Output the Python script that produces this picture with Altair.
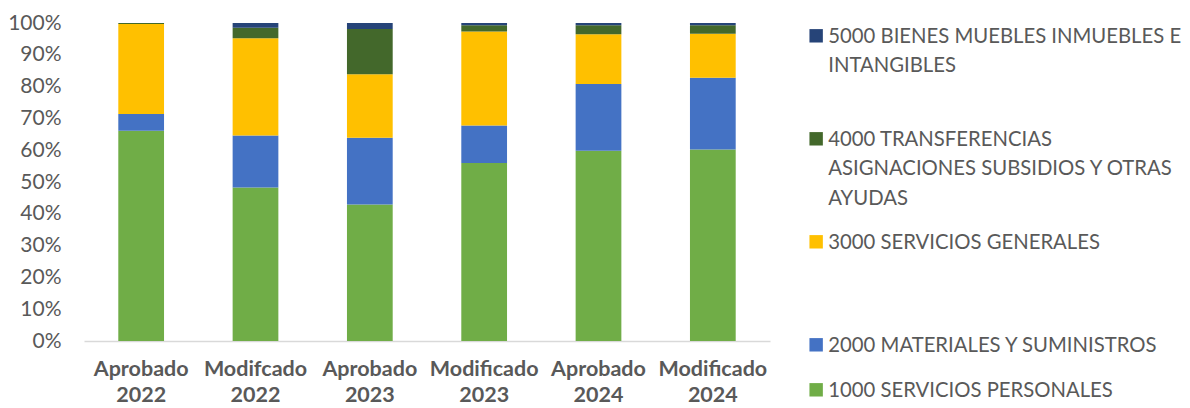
import json
import altair as alt
import pandas as pd

columns = ["Aprobado 2022", "Modifcado 2022", "Aprobado 2023",
           "Modificado 2023", "Aprobado 2024", "Modificado 2024"]
categories = [
    "1000 SERVICIOS PERSONALES",
    "2000 MATERIALES Y SUMINISTROS",
    "3000 SERVICIOS GENERALES",
    "4000 TRANSFERENCIAS ASIGNACIONES SUBSIDIOS Y OTRAS AYUDAS",
    "5000 BIENES MUEBLES INMUEBLES E INTANGIBLES",
]
s1000 = [66.1, 48.3, 42.9, 56.0, 59.8, 60.2]
s2000 = [5.3, 16.3, 21.0, 11.8, 21.0, 22.6]
s3000 = [28.3, 30.6, 20.0, 29.5, 15.7, 13.8]
s4000 = [0.3, 3.3, 14.2, 2.0, 2.8, 2.7]
s5000 = [0.0, 1.5, 1.9, 0.7, 0.7, 0.7]
colors = ["#70AD47", "#4472C4", "#FFC000", "#43682B", "#264478"]
y_ticks = [0, 0.1, 0.2, 0.3, 0.4, 0.5, 0.6, 0.7, 0.8, 0.9, 1.0]

# legend label wrapping (trailing blank lines reproduce the spacing)
legend_lines = {
    categories[4]: ["5000 BIENES MUEBLES INMUEBLES E", "INTANGIBLES", ""],
    categories[3]: ["4000 TRANSFERENCIAS", "ASIGNACIONES SUBSIDIOS Y OTRAS", "AYUDAS"],
    categories[2]: ["3000 SERVICIOS GENERALES", "", ""],
    categories[1]: ["2000 MATERIALES Y SUMINISTROS"],
    categories[0]: ["1000 SERVICIOS PERSONALES"],
}

series = [s1000, s2000, s3000, s4000, s5000]
rows = []
for ci, (cat, vals) in enumerate(zip(categories, series)):
    for col, v in zip(columns, vals):
        rows.append({"col": col, "cat": cat, "rank": ci, "value": v})
df = pd.DataFrame(rows)

expr = "datum.label"
for cat, lines in legend_lines.items():
    expr = f"datum.label == {json.dumps(cat)} ? {json.dumps(lines)} : (" + expr + ")"

FONT = "Lato"
GRAY = "#595959"

chart = alt.Chart(df).mark_bar().encode(
    x=alt.X("col:N", sort=columns,
            scale=alt.Scale(paddingInner=0.6, paddingOuter=0.3),
            axis=alt.Axis(title=None, labelAngle=0,
                          labelExpr="split(datum.label, ' ')",
                          labelFont=FONT, labelFontWeight="bold",
                          labelFontSize=21.5, labelColor=GRAY,
                          labelLineHeight=26.5, labelBaseline="top",
                          labelPadding=17, ticks=False,
                          domainColor="#D9D9D9", domainWidth=1.5)),
    y=alt.Y("value:Q", stack="normalize",
            scale=alt.Scale(domain=[0, 1]),
            axis=alt.Axis(title=None, format=".0%", values=y_ticks,
                          grid=False, domain=False, ticks=False,
                          labelPadding=23, labelFont=FONT, labelFontSize=21,
                          labelColor=GRAY)),
    color=alt.Color("cat:N",
                    scale=alt.Scale(domain=categories[::-1], range=colors[::-1]),
                    legend=alt.Legend(title=None, orient="none",
                                      legendX=722, legendY=-6,
                                      symbolType="M-1,0.29H1V2.29H-1Z",
                                      symbolSize=180, symbolStrokeWidth=0,
                                      labelFont=FONT, labelFontSize=20.3,
                                      labelColor=GRAY, labelBaseline="top",
                                      labelOffset=2,
                                      rowPadding=14, labelLimit=420,
                                      labelExpr=expr)),
    order=alt.Order("rank:Q", sort="ascending"),
).properties(
    width=686, height=318,
    autosize=alt.AutoSizeParams(type="none"),
    padding={"left": 76, "top": 15, "right": 412, "bottom": 66},
).configure(
    style={"guide-label": {"lineHeight": 29.2}},
    view={"strokeWidth": 0},
)

chart.save("out.html", embed_options={"renderer": "svg", "actions": False})
